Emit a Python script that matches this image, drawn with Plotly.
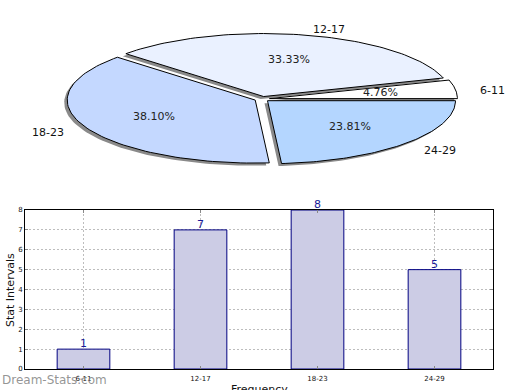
import numpy as np
import plotly.graph_objects as go

categories = ["6-11", "12-17", "18-23", "24-29"]
counts = [1, 7, 8, 5]
pie_colors = ["#ffffff", "#eaf1ff", "#c4d8ff", "#b4d6ff"]
y_ticks = [0, 1, 2, 3, 4, 5, 6, 7, 8]

W, H = 520, 390
CX, CY, RA, RB = 262, 99, 188, 63  # pie center / semi-axes in px
EXPLODE = 0.04
SH_DX, SH_DY = -3 / RA, -2.5 / RB

fig = go.Figure()
total = sum(counts)
fracs = [c / total for c in counts]
starts = np.cumsum([0] + fracs[:-1]) * 2 * np.pi
ends = np.cumsum(fracs) * 2 * np.pi

slices = []
for cat, f, a0, a1, col in zip(categories, fracs, starts, ends, pie_colors):
    mid = (a0 + a1) / 2
    ox, oy = EXPLODE * np.cos(mid), EXPLODE * np.sin(mid)
    t = np.linspace(a0, a1, 80)
    xs = np.concatenate([[0], np.cos(t), [0]]) + ox
    ys = np.concatenate([[0], np.sin(t), [0]]) + oy
    slices.append((cat, f, mid, ox, oy, xs, ys, col))

for cat, f, mid, ox, oy, xs, ys, col in slices:
    fig.add_trace(go.Scatter(x=xs + SH_DX, y=ys + SH_DY, mode="lines", fill="toself",
                             fillcolor="#8a8a8a", line=dict(color="#8a8a8a", width=0),
                             hoverinfo="skip", showlegend=False, xaxis="x", yaxis="y"))
for cat, f, mid, ox, oy, xs, ys, col in slices:
    fig.add_trace(go.Scatter(x=xs, y=ys, mode="lines", fill="toself", fillcolor=col,
                             line=dict(color="#000000", width=1), name=cat,
                             showlegend=False, xaxis="x", yaxis="y"))

annotations = []
for cat, f, mid, ox, oy, xs, ys, col in slices:
    annotations.append(dict(x=0.6 * np.cos(mid) + ox, y=0.6 * np.sin(mid) + oy, xref="x", yref="y",
                            text=f"{f*100:.2f}%", showarrow=False,
                            font=dict(family="DejaVu Sans", size=11, color="#222")))
    r = 1.12
    annotations.append(dict(x=r * np.cos(mid) + ox, y=r * np.sin(mid) + oy, xref="x", yref="y",
                            text=cat, showarrow=False, yshift=-2,
                            xanchor="left" if np.cos(mid) > 0 else "right",
                            font=dict(family="DejaVu Sans", size=11, color="#111")))

fig.add_trace(go.Bar(x=categories, y=counts, width=0.45, marker=dict(color="#ccccE5",
                     line=dict(color="#000080", width=1)),
                     showlegend=False, xaxis="x2", yaxis="y2"))

for cat, c in zip(categories, counts):
    annotations.append(dict(x=cat, y=c, xref="x2", yref="y2", text=str(c), showarrow=False,
                            yanchor="bottom", yshift=-3,
                            font=dict(family="DejaVu Sans", size=11, color="#1a1a99")))

annotations += [
    dict(x=10, y=290, xref="paper", yref="paper", text="Stat Intervals", textangle=-90,
         xanchor="center", yanchor="middle",
         showarrow=False, font=dict(family="DejaVu Sans", size=11, color="#111")),
    dict(x=259, y=389, xref="paper", yref="paper", text="Frequency",
         xanchor="center", yanchor="middle",
         showarrow=False, font=dict(family="DejaVu Sans", size=11, color="#111")),
    dict(x=0, y=380, xref="paper", yref="paper", text="Dream-Stats.com", xanchor="left",
         yanchor="middle",
         showarrow=False, font=dict(family="DejaVu Sans", size=12, color="rgba(130,130,130,0.85)")),
]
for a in annotations:
    if a.get("xref") == "paper":
        a["x"] = a["x"] / W
        a["y"] = 1 - a["y"] / H

grid = dict(showgrid=True, gridcolor="#bdbdbd", griddash="2px,2px", gridwidth=1)
fig.update_layout(
    width=W, height=H, margin=dict(l=0, r=0, t=0, b=0, autoexpand=False),
    paper_bgcolor="white", plot_bgcolor="white",
    annotations=annotations,
    xaxis=dict(domain=[0, 1], range=[-CX / RA, (W - CX) / RA], visible=False, automargin=False),
    yaxis=dict(domain=[0.5, 1], range=[(CY - H / 2) / RB, CY / RB], visible=False, automargin=False),
    xaxis2=dict(domain=[25 / W, 493 / W], anchor="y2", range=[-0.5, 3.5], ticks="inside",
                ticklen=3, tickcolor="#888", showline=True, linecolor="black", mirror="ticks",
                ticklabelstandoff=3, automargin=False,
                tickfont=dict(family="DejaVu Sans", size=7, color="#111"), **grid),
    yaxis2=dict(domain=[1 - 369 / H, 1 - 210 / H], anchor="x2", range=[0, 8], tickvals=y_ticks,
                ticks="inside", ticklen=3, tickcolor="#888", showline=True, linecolor="black",
                mirror="ticks", zeroline=False, showticklabels=True, automargin=False,
                tickfont=dict(family="DejaVu Sans", size=7, color="#111"), **grid),
)
fig.write_html("out.html", post_script="document.body.style.margin='0';",
               config={"displayModeBar": False})
